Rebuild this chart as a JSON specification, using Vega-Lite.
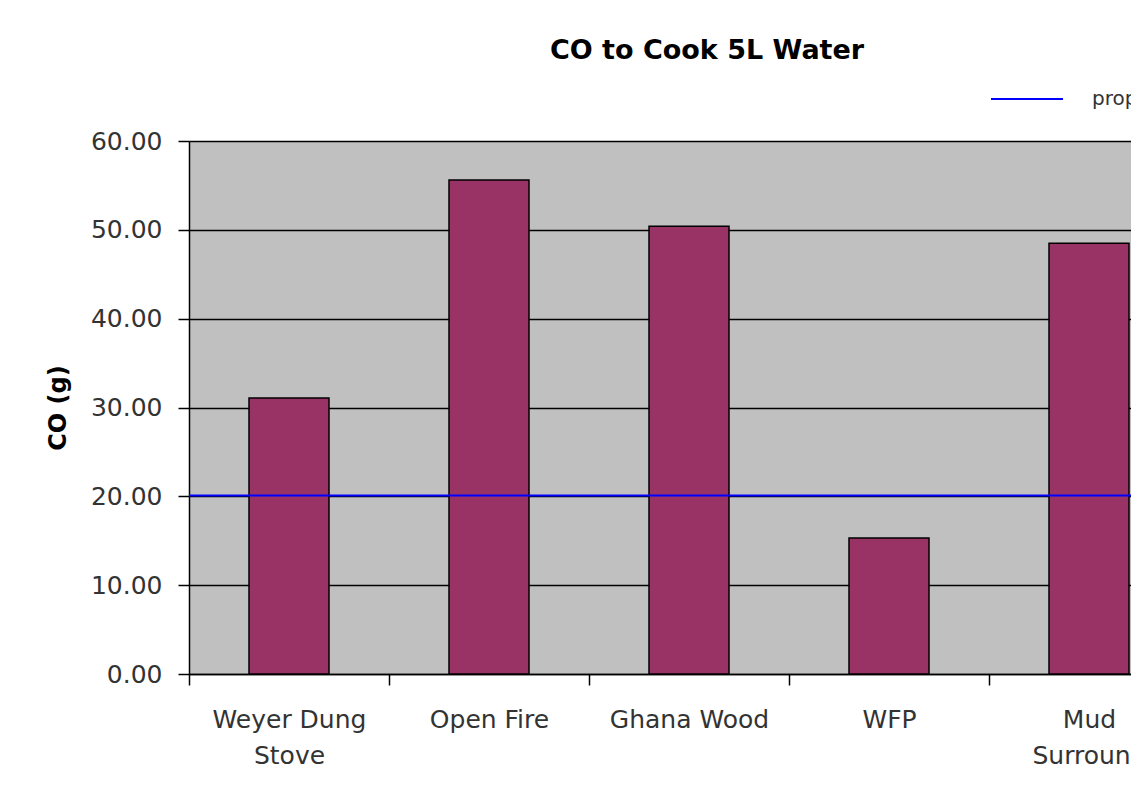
{
  "$schema": "https://vega.github.io/schema/vega-lite/v6.json",
  "autosize": "none",
  "width": 942,
  "height": 533,
  "padding": {"left": 189, "top": 141, "right": 0, "bottom": 125},
  "background": "white",
  "title": {
    "text": "CO to Cook 5L Water",
    "font": "DejaVu Sans",
    "fontSize": 27,
    "fontWeight": "bold",
    "color": "#000000",
    "anchor": "middle",
    "frame": "group",
    "dx": 47,
    "offset": -3
  },
  "config": {
    "view": {"fill": "#c0c0c0", "stroke": null},
    "axis": {"labelFont": "DejaVu Sans", "titleFont": "DejaVu Sans"}
  },
  "layer": [
    {
      "data": {"values": [
        {"stove": "Weyer Dung Stove", "co": 31.07},
        {"stove": "Open Fire", "co": 55.6},
        {"stove": "Ghana Wood", "co": 50.4},
        {"stove": "WFP", "co": 15.3},
        {"stove": "Mud Surround", "co": 48.5}
      ]},
      "mark": {"type": "bar", "color": "#993366", "stroke": "#000000", "strokeWidth": 1.5, "width": {"band": 0.4}},
      "encoding": {
        "x": {
          "field": "stove", "type": "nominal", "sort": null,
          "scale": {"range": [0, 1000], "paddingInner": 0, "paddingOuter": 0},
          "axis": {
            "title": null,
            "labelAngle": 0,
            "tickBand": "extent",
            "tickSize": 11,
            "tickColor": "#000000",
            "domainColor": "#000000",
            "domainWidth": 1.5,
            "tickWidth": 1.5,
            "labelFontSize": 25,
            "labelColor": "#333333",
            "labelPadding": 22,
            "labelLineHeight": 36,
            "labelBaseline": "top",
            "labelExpr": "datum.value == 'Weyer Dung Stove' ? ['Weyer Dung', 'Stove'] : datum.value == 'Mud Surround' ? ['Mud', 'Surround'] : datum.value"
          }
        },
        "y": {
          "field": "co", "type": "quantitative",
          "scale": {"domain": [0, 60], "nice": false},
          "axis": {
            "title": "CO (g)",
            "titleFontSize": 24,
            "titleFontWeight": "bold",
            "titleColor": "#000000",
            "titlePadding": 20,
            "values": [0, 10, 20, 30, 40, 50, 60],
            "format": ".2f",
            "grid": true,
            "gridColor": "#000000",
            "gridWidth": 1.5,
            "tickSize": 11,
            "tickColor": "#000000",
            "tickWidth": 1.5,
            "domainColor": "#000000",
            "domainWidth": 1.5,
            "labelFontSize": 25,
            "labelColor": "#333333",
            "labelPadding": 16
          }
        }
      }
    },
    {
      "data": {"values": [{"series": "proposed standard", "value": 20.1}]},
      "mark": {"type": "rule", "strokeWidth": 2},
      "encoding": {
        "y": {"field": "value", "type": "quantitative"},
        "color": {
          "field": "series", "type": "nominal",
          "scale": {"range": ["#0000ff"]},
          "legend": {
            "title": null,
            "orient": "none",
            "legendX": 801,
            "legendY": -79,
            "padding": 0,
            "symbolType": "stroke",
            "symbolSize": 5184,
            "symbolStrokeWidth": 2,
            "labelOffset": 28,
            "labelFont": "DejaVu Sans",
            "labelFontSize": 20,
            "labelColor": "#333333",
            "labelLimit": 0
          }
        }
      }
    }
  ]
}
